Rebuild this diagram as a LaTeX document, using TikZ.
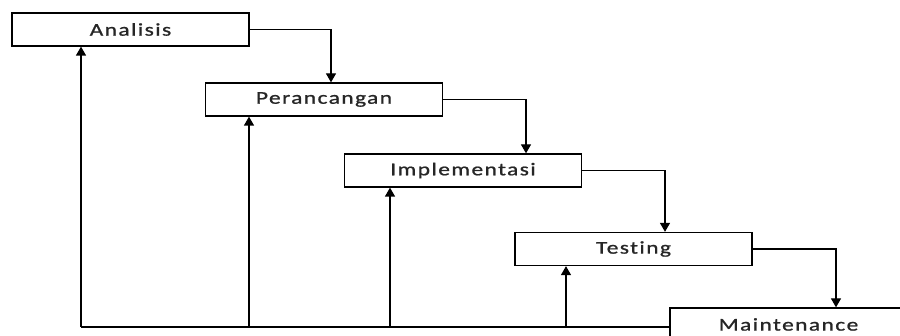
\documentclass[tikz,border=0pt]{standalone}
\usepackage{fontspec}
\setmainfont[FakeStretch=1.3,FakeBold=1.0,LetterSpace=8,Ligatures={NoCommon,NoRequired,NoContextual}]{Carlito}
\usetikzlibrary{arrows.meta}
\begin{document}
\begin{tikzpicture}[x=1pt,y=-1pt,
  stage/.style={draw=black,line width=1.3pt,fill=white,minimum width=237pt,minimum height=33pt,inner sep=0pt,font=\fontsize{18pt}{21pt}\selectfont,text=black!85},
  flow/.style={line width=1.3pt,-{Triangle[width=10pt,length=9pt]}},
  plain/.style={line width=1.3pt}]
\useasboundingbox (0,0) rectangle (900,336);
\clip (0,0) rectangle (900,336);
\node[stage] (A) at (130.5,29.5) {Analisis};
\node[stage] (P) at (324,99.5) {Perancangan};
\node[stage] (I) at (463,170.5) {Implementasi};
\node[stage] (T) at (633.5,249) {Testing};
\node[stage] (M) at (788.5,324.5) {Maintenance};
\draw[flow] (A.east) -| ([xshift=7pt]P.north);
\draw[flow] (P.east) -| ([xshift=63pt]I.north);
\draw[flow] (I.east) -| ([xshift=31.5pt]T.north);
\draw[flow] (T.east) -| ([xshift=47.5pt]M.north);
\coordinate (b0) at (81,327);
\coordinate (b1) at (249,327);
\coordinate (b2) at (390,327);
\coordinate (b3) at (566,327);
\draw[plain] (b0) -- (M.west |- b0);
\draw[flow] (b0) -- (b0 |- A.south);
\draw[flow] (b1) -- (b1 |- P.south);
\draw[flow] (b2) -- (b2 |- I.south);
\draw[flow] (b3) -- (b3 |- T.south);
\end{tikzpicture}
\end{document}
